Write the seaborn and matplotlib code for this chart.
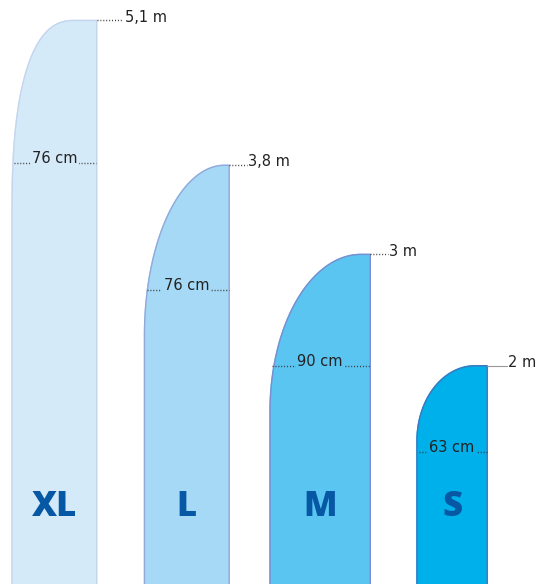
import numpy as np
import pandas as pd
import matplotlib
matplotlib.use("Agg")
import matplotlib.pyplot as plt
import seaborn as sns

# ---- data ----
sizes = ["XL", "L", "M", "S"]
heights_m = [5.1, 3.8, 3.0, 2.0]
widths_cm = [76, 76, 90, 63]
height_labels = ["5,1 m", "3,8 m", "3 m", "2 m"]
width_labels = ["76 cm", "76 cm", "90 cm", "63 cm"]

# ---- layout / style ----
x_left = [0.108, 1.297, 2.424, 3.743]
corner_rx = [0.566, 0.718, 0.817, 0.521]
corner_ry = [1.75, 1.526, 1.41, 0.673]
corner_n = [2.5, 2.0, 2.0, 2.0]
width_label_y = [3.82, 2.68, 2.0, 1.226]
leader_len = [0.24, 0.16, 0.16, 0.18]
fills = ["#D5EAF9", "#A5D9F6", "#5BC5F2", "#00B0EA"]
edges = ["#C5D5EE", "#93A9DA", "#7A8ED0", "#3F77BD"]
label_color = "#0758A4"
text_color = "#222222"

XLIM = (0, 540 / 111.4)
YLIM = (4.6 / 111.4, 588.6 / 111.4)

sns.set_theme(style="white")
plt.rcParams["font.family"] = ["DejaVu Sans"]

fig = plt.figure(figsize=(5.4, 5.84), dpi=100)
ax = fig.add_axes([0, 0, 1, 1])

rows = []
for i, s in enumerate(sizes):
    x0 = x_left[i]
    w = widths_cm[i] / 100.0
    h = heights_m[i]
    rx, ry, n = corner_rx[i], corner_ry[i], corner_n[i]
    t = np.linspace(0, np.pi / 2, 80)
    cx, cy = x0 + rx, h - ry
    xs = cx - rx * np.cos(t) ** (2 / n)
    ys = cy + ry * np.sin(t) ** (2 / n)
    px = np.concatenate([[x0], xs, [x0 + w, x0 + w, x0]])
    py = np.concatenate([[-0.2], ys, [h, -0.2, -0.2]])
    ax.fill(px, py, color=fills[i], zorder=1)
    for k, (a, b) in enumerate(zip(px, py)):
        rows.append({"size": s, "order": k, "x": a, "y": b})

outline = pd.DataFrame(rows)
sns.lineplot(data=outline, x="x", y="y", hue="size", units="size",
             estimator=None, sort=False, palette=dict(zip(sizes, edges)),
             linewidth=1.0, legend=False, ax=ax, zorder=2)
ax.set_xlim(*XLIM)
ax.set_ylim(*YLIM)
ax.axis("off")

dot_style = (0, (0.7, 1.4))
for i, s in enumerate(sizes):
    x0 = x_left[i]
    w = widths_cm[i] / 100.0
    h = heights_m[i]
    xr = x0 + w
    # height leader
    if s == "S":
        ax.plot([xr, xr + leader_len[i]], [h, h], color="#999999", lw=0.8, zorder=3)
    else:
        ax.plot([xr, xr + leader_len[i]], [h, h], color="#333333", lw=1.0,
                linestyle=dot_style, zorder=3)
    ax.text(xr + leader_len[i] + 0.01, h - 0.01, height_labels[i],
            ha="left", va="baseline", fontsize=10.5, color=text_color, zorder=4)
    # width dimension
    yw = width_label_y[i]
    ax.plot([x0 + 0.02, xr - 0.005], [yw, yw], color="#333333", lw=1.0,
            linestyle=dot_style, zorder=3)
    ax.text(x0 + w / 2, yw, width_labels[i], ha="center", va="baseline",
            fontsize=10.5, color=text_color, zorder=5,
            bbox=dict(boxstyle="square,pad=0.12", fc=fills[i], ec="none"))
    # size label
    ax.text(x0 + w / 2, 0.652, s, ha="center", va="baseline", fontsize=25,
            fontweight="heavy", family=["Open Sans", "DejaVu Sans"],
            color=label_color, zorder=4)

fig.savefig("out.png", dpi=100)
